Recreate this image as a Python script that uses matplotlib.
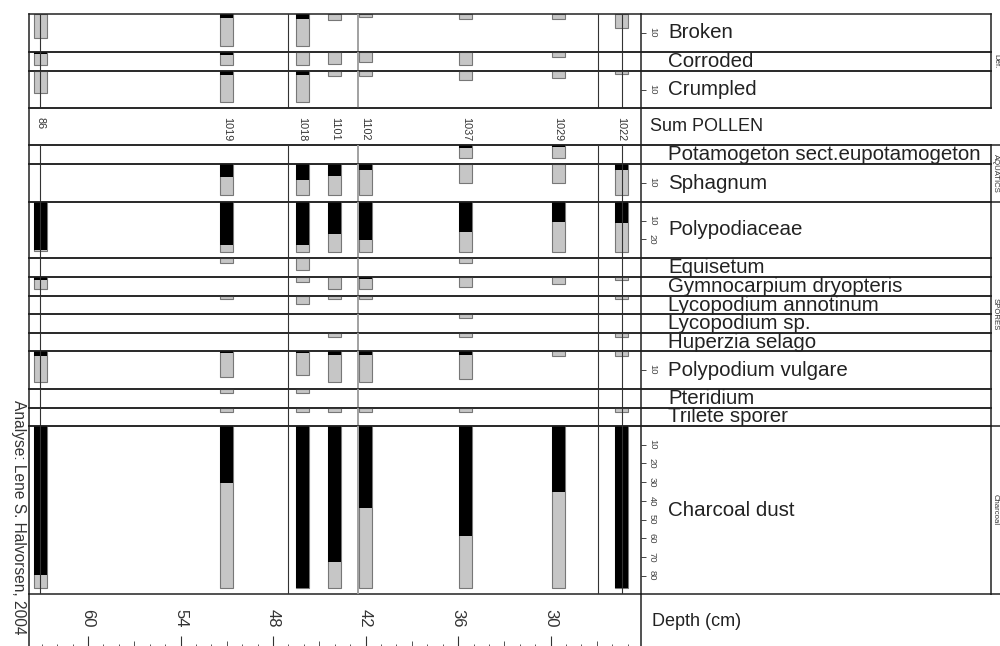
import matplotlib
matplotlib.use("Agg")
import matplotlib.pyplot as plt
from matplotlib.lines import Line2D
from matplotlib.ticker import MultipleLocator

plt.rcParams['font.family'] = ['Liberation Sans', 'DejaVu Sans']

# Prøvedybder (cm) og pollensum per prøve
depths = [63.1, 51.0, 46.1, 44.0, 42.0, 35.5, 29.5, 25.4]
sum_pollen = ['86', '1019', '1018', '1101', '1102', '1037', '1029', '1022']

# grå = overdrevet kurve, svart = prosentverdi
broken_gray = [12.8, 17.1, 17.1, 3.2, 1.6, 2.7, 2.7, 7.5]
broken_black = [0, 2.1, 2.7, 0, 0, 0, 0, 0]
corroded_gray = [7.0, 7.0, 7.0, 6.4, 5.3, 7.0, 2.7, 0]
corroded_black = [1.0, 1.5, 0, 0, 0, 0, 0, 0]
crumpled_gray = [11.8, 16.6, 16.6, 2.7, 2.7, 4.8, 3.7, 1.6]
crumpled_black = [0, 2.1, 2.1, 0, 0, 0, 0, 0]
potamogeton_gray = [0, 0, 0, 0, 0, 7.0, 7.0, 0]
potamogeton_black = [0, 0, 0, 0, 0, 1.6, 1.1, 0]
sphagnum_gray = [0, 16.6, 16.6, 16.6, 16.6, 10.2, 10.2, 16.6]
sphagnum_black = [0, 7.0, 8.6, 6.4, 3.2, 0, 0, 3.2]
polypodiaceae_gray = [26.2, 26.7, 26.7, 26.7, 26.7, 26.7, 26.7, 26.7]
polypodiaceae_black = [25.7, 23.0, 23.0, 17.1, 20.3, 16.0, 10.7, 11.2]
equisetum_gray = [0, 2.7, 6.4, 0, 0, 2.7, 0, 0]
gymnocarpium_gray = [6.4, 0, 2.7, 6.4, 6.4, 5.3, 3.7, 1.6]
gymnocarpium_black = [1.6, 0, 0, 0, 1.1, 0, 0, 0]
lyco_annotinum_gray = [0, 1.6, 4.3, 1.6, 1.6, 0, 0, 1.6]
lyco_sp_gray = [0, 0, 0, 0, 0, 1.9, 0, 0]
huperzia_gray = [0, 0, 0, 1.9, 0, 1.9, 0, 1.9]
polypodium_gray = [16.6, 13.9, 12.8, 16.6, 16.6, 15.0, 2.7, 2.7]
polypodium_black = [2.7, 1.1, 1.1, 2.1, 2.1, 2.1, 0, 0]
pteridium_gray = [0, 2.1, 2.1, 0, 0, 0, 0, 0]
trilete_gray = [0, 2.1, 2.1, 2.1, 2.1, 2.1, 0, 2.1]
charcoal_gray = [86.6, 86.6, 86.6, 86.6, 86.6, 86.6, 86.6, 86.6]
charcoal_black = [79.7, 30.5, 86.6, 72.7, 43.9, 58.8, 35.3, 86.6]

zero = [0] * len(depths)
zone_depths = [63.1, 47.0, 26.9, 25.4]
gray_zone = 42.5

# navn, grå, svart, radhøyde (px), skalamerker
rows = [
    ('Broken', broken_gray, broken_black, 38, [10]),
    ('Corroded', corroded_gray, corroded_black, 19, []),
    ('Crumpled', crumpled_gray, crumpled_black, 37, [10]),
    ('Sum POLLEN', None, None, 37, []),
    ('Potamogeton sect.eupotamogeton', potamogeton_gray, potamogeton_black, 19, []),
    ('Sphagnum', sphagnum_gray, sphagnum_black, 38, [10]),
    ('Polypodiaceae', polypodiaceae_gray, polypodiaceae_black, 56, [10, 20]),
    ('Equisetum', equisetum_gray, zero, 19, []),
    ('Gymnocarpium dryopteris', gymnocarpium_gray, gymnocarpium_black, 19, []),
    ('Lycopodium annotinum', lyco_annotinum_gray, zero, 18, []),
    ('Lycopodium sp.', lyco_sp_gray, zero, 19, []),
    ('Huperzia selago', huperzia_gray, zero, 18, []),
    ('Polypodium vulgare', polypodium_gray, polypodium_black, 38, [10]),
    ('Pteridium', pteridium_gray, zero, 19, []),
    ('Trilete sporer', trilete_gray, zero, 18, []),
    ('Charcoal dust', charcoal_gray, charcoal_black, 168, [10, 20, 30, 40, 50, 60, 70, 80]),
]

groups = [('Def.', 14, 108), ('AQUATICS', 145, 202), ('SPORES', 202, 426), ('Charcoal', 426, 594)]

W, H = 1000, 646
SCALE = 1.87          # px per %
X0, X1, X2 = 29, 641, 991
TOP = 14
D_LEFT = 60 + (88 - X0) / 15.42
D_RIGHT = 60 - (X1 - 88) / 15.42
BAR_W = 0.84
LINE = '#222222'


def fx(px):
    return px / W


def fy(py):
    return 1 - py / H


def nonzero(vals):
    return [(d, v) for d, v in zip(depths, vals) if v > 0]


fig = plt.figure(figsize=(10, 6.46), dpi=100)

y = TOP
for name, gray, black, h, ticks in rows:
    ax = fig.add_axes([fx(X0), fy(y + h), fx(X1 - X0), h / H])
    ax.set_facecolor('none')
    ax.set_xlim(D_LEFT, D_RIGHT)
    ax.set_ylim(h / SCALE, 0)
    ax.set_xticks([])
    for s in ax.spines.values():
        s.set_color(LINE)
        s.set_linewidth(1.1)

    if gray is None:
        for d, s in zip(depths, sum_pollen):
            ax.text(d, 1 - 9 / h, s, transform=ax.get_xaxis_transform(),
                    rotation=270, ha='center', va='top', fontsize=7.8, color='#333333')
    else:
        g = nonzero(gray)
        if g:
            ax.bar([p[0] for p in g], [p[1] for p in g], width=BAR_W, color='#c6c6c6',
                   edgecolor='#777777', linewidth=0.8, zorder=2)
        b = nonzero(black)
        if b:
            ax.bar([p[0] for p in b], [p[1] for p in b], width=BAR_W, color='black',
                   linewidth=0, zorder=2.1)
        for d in zone_depths:
            ax.axvline(d, color='#333333', lw=0.8, zorder=3)
        ax.axvline(gray_zone, color='#9a9a9a', lw=1.3, zorder=3)

    ax.yaxis.tick_right()
    ax.set_yticks(ticks)
    ax.tick_params(axis='y', direction='out', length=3.5, width=0.7, color='#444444',
                   pad=1.5, labelsize=6.8, labelcolor='#444444', labelrotation=270)
    for lbl in ax.get_yticklabels():
        lbl.set_va('center')

    # tekstkolonne
    lab = fig.add_axes([fx(X1), fy(y + h), fx(X2 - X1), h / H])
    lab.set_facecolor('none')
    lab.set_xticks([])
    lab.set_yticks([])
    lab.spines['left'].set_visible(False)
    for s in lab.spines.values():
        s.set_color(LINE)
        s.set_linewidth(1.1)
    if gray is None:
        lab.spines['right'].set_visible(False)
        lab.text((650 - X1) / (X2 - X1), 0.5, name, transform=lab.transAxes,
                 fontsize=13, va='center', ha='left', color='#222222')
    else:
        lab.text((668 - X1) / (X2 - X1), 0.5, name, transform=lab.transAxes,
                 fontsize=14.8, va='center', ha='left', color='#222222')
    y += h

# dybdeakse
box = fig.add_axes([fx(X0), fy(H), fx(X1 - X0), (H - y) / H])
box.set_facecolor('none')
box.set_xticks([])
box.set_yticks([])
box.spines['top'].set_visible(False)
box.spines['bottom'].set_visible(False)
for s in box.spines.values():
    s.set_color(LINE)
    s.set_linewidth(1.1)

dax = fig.add_axes([fx(X0), -0.05, fx(X1 - X0), 0.05])
dax.set_facecolor('none')
dax.set_xlim(D_LEFT, D_RIGHT)
dax.set_yticks([])
for s in dax.spines.values():
    s.set_visible(False)
dax.xaxis.tick_top()
dax.set_xticks([60, 54, 48, 42, 36, 30])
dax.xaxis.set_minor_locator(MultipleLocator(1))
dax.tick_params(axis='x', which='major', direction='out', length=7.2, width=0.8,
                color='#333333', pad=6, labelsize=12, labelcolor='#333333', labelrotation=270)
dax.tick_params(axis='x', which='minor', direction='out', length=1.8, width=0.7, color='#555555')
sec = dax.secondary_xaxis('top')
sec.set_xticks([57, 51, 45, 39, 33, 27])
sec.tick_params(axis='x', direction='out', length=3.6, width=0.7, color='#555555', labeltop=False)
for s in sec.spines.values():
    s.set_visible(False)

fig.text(fx(652), fy(622), 'Depth (cm)', fontsize=13, va='center', ha='left', color='#222222')
fig.text(fx(18), fy(400), 'Analyse: Lene S. Halvorsen, 2004', rotation=270,
         fontsize=11.2, ha='center', va='top', color='#333333')

# gruppenavn til høyre
for gname, g0, g1 in groups:
    fig.text(fx(992), fy((g0 + g1) / 2), gname, rotation=270, fontsize=5.6,
             ha='left', va='center', color='#333333')
for gy in [145, 202, 426, 594]:
    fig.add_artist(Line2D([fx(X2), 1.0], [fy(gy), fy(gy)], color=LINE, lw=1.1,
                          transform=fig.transFigure))

fig.savefig('out.png', dpi=100)
